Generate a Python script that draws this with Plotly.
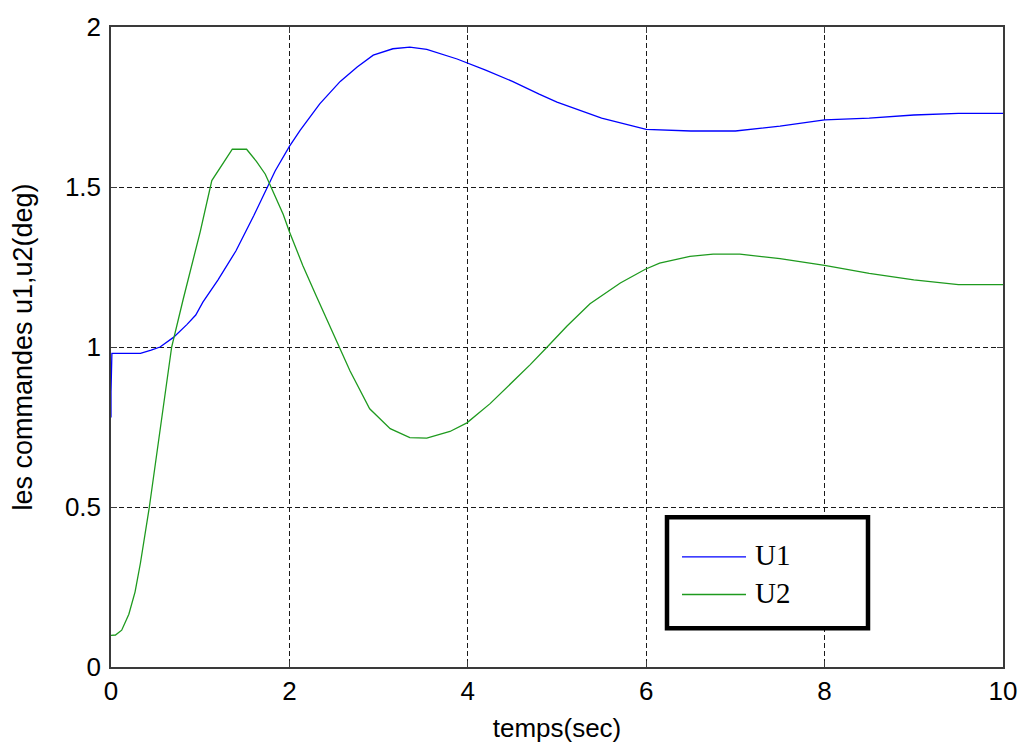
import plotly.graph_objects as go

# Command signals u1 and u2 (deg) over time (sec)
t_u1 = [0.0, 0.0, 0.0, 0.01, 0.33, 0.45, 0.55, 0.7, 0.85, 0.95, 1.03, 1.2, 1.4, 1.6, 1.75, 1.84, 2.0,
        2.12, 2.34, 2.57, 2.76, 2.94, 3.16, 3.35, 3.54, 3.88, 4.2, 4.5, 4.8, 5.0, 5.5, 6.0, 6.5, 7.0,
        7.5, 8.0, 8.5, 9.0, 9.5, 10.0]
u1 = [0.78, 0.90, 0.86, 0.98, 0.98, 0.99, 1.0, 1.03, 1.07, 1.10, 1.14, 1.21, 1.30, 1.41, 1.50, 1.55, 1.627,
      1.677, 1.76, 1.83, 1.875, 1.912, 1.932, 1.937, 1.93, 1.90, 1.865, 1.83, 1.79, 1.765, 1.715, 1.68,
      1.675, 1.675, 1.69, 1.71, 1.715, 1.725, 1.73, 1.73]

t_u2 = [0.0, 0.05, 0.12, 0.2, 0.27, 0.33, 0.43, 0.55, 0.68, 0.81, 1.0, 1.13, 1.36,
        1.52, 1.63, 1.73, 1.78, 1.93, 2.0, 2.15, 2.3, 2.46, 2.55, 2.68, 2.9, 3.13, 3.35, 3.54, 3.8,
        3.99, 4.25, 4.5, 4.7, 4.89, 5.11, 5.37, 5.71, 5.99, 6.15, 6.49, 6.75, 7.05, 7.5, 8.0, 8.5,
        9.0, 9.5, 10.0]
u2 = [0.099, 0.10, 0.115, 0.165, 0.235, 0.325, 0.50, 0.74, 1.0, 1.15, 1.36, 1.52, 1.618,
      1.618, 1.58, 1.54, 1.51, 1.415, 1.36, 1.255, 1.16, 1.06, 1.005, 0.925, 0.807, 0.745, 0.717, 0.715, 0.736,
      0.763, 0.823, 0.89, 0.945, 1.0, 1.065, 1.135, 1.20, 1.243, 1.262, 1.283, 1.29, 1.29, 1.276, 1.255, 1.23,
      1.21, 1.195, 1.195]

series_names = ["U1", "U2"]
series_colors = ["#0000ff", "#1e9a1e"]

x_ticks = [0, 2, 4, 6, 8, 10]
y_ticks = [0, 0.5, 1, 1.5, 2]
y_tick_text = ["0", "0.5", "1", "1.5", "2"]

fig = go.Figure()
fig.add_trace(go.Scatter(x=t_u1, y=u1, mode="lines", name=series_names[0],
                         line=dict(color=series_colors[0], width=1.3)))
fig.add_trace(go.Scatter(x=t_u2, y=u2, mode="lines", name=series_names[1],
                         line=dict(color=series_colors[1], width=1.3)))

sans = "Liberation Sans, Arial"
axis_common = dict(
    showline=True, linecolor="#3a3a3a", linewidth=1.5, mirror="ticks",
    ticks="inside", ticklen=6, tickcolor="#3a3a3a",
    showgrid=True, gridcolor="#1a1a1a", gridwidth=1.2, griddash="5px,3px",
    zeroline=False,
    tickfont=dict(family=sans, size=26, color="#000000"),
)

fig.update_xaxes(range=[0, 10], tickvals=x_ticks,
                 title=dict(text="temps(sec)", font=dict(family=sans, size=26, color="#000"), standoff=14),
                 **axis_common)
fig.update_yaxes(range=[0, 2], tickvals=y_ticks, ticktext=y_tick_text, ticklabelstandoff=3,
                 title=dict(text="les commandes u1,u2(deg)", font=dict(family=sans, size=27, color="#000"),
                            standoff=24),
                 **axis_common)

# Legend box drawn in paper coordinates (plot area: x 111..1003, y 22..667 px)
def px_x(p):
    return (p - 111) / 892


def px_y(p):
    return (667 - p) / 645


fig.add_shape(type="rect", xref="paper", yref="paper",
              x0=px_x(667), x1=px_x(868), y0=px_y(628), y1=px_y(516),
              line=dict(color="#000000", width=4.5), fillcolor="#ffffff", layer="above")
for name, color, row_y in zip(series_names, series_colors, [556, 594]):
    fig.add_shape(type="line", xref="paper", yref="paper",
                  x0=px_x(682), x1=px_x(746), y0=px_y(row_y), y1=px_y(row_y),
                  line=dict(color=color, width=1.4), layer="above")
    fig.add_annotation(xref="paper", yref="paper", x=px_x(753), y=px_y(row_y - 2),
                       xanchor="left", yanchor="middle", text=name, showarrow=False,
                       font=dict(family="Liberation Serif, Times New Roman", size=29, color="#000"))

fig.update_layout(
    width=1031, height=753,
    margin=dict(l=111, r=28, t=22, b=86),
    paper_bgcolor="#ffffff", plot_bgcolor="#ffffff",
    showlegend=False,
)

fig.write_html("out.html")
